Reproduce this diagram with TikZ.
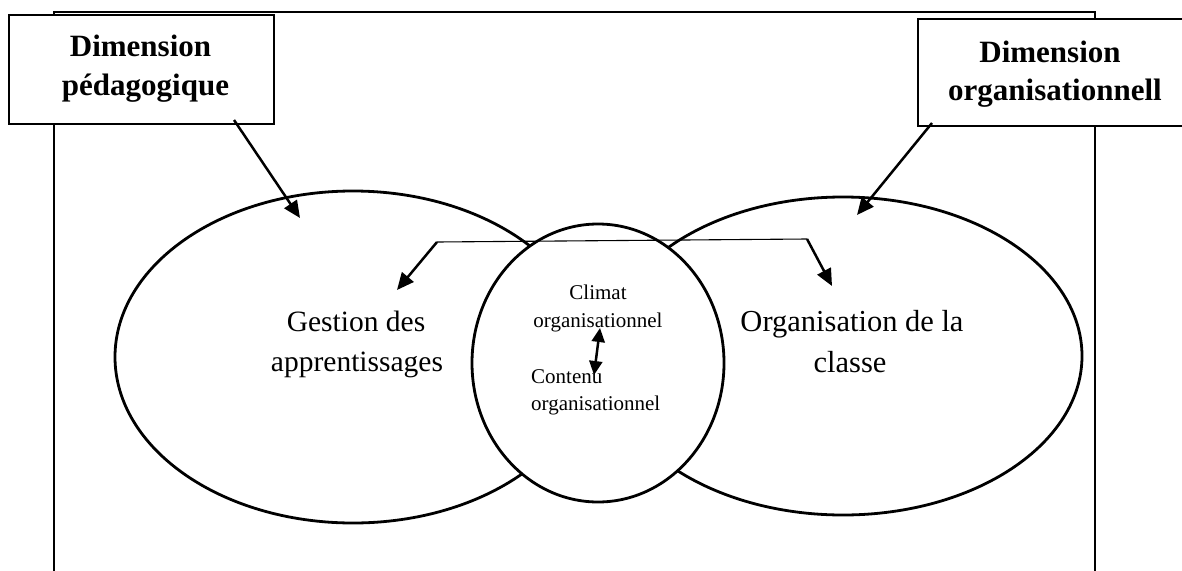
\documentclass[tikz,border=0pt]{standalone}
\usepackage{fontspec}
\setmainfont{Liberation Serif}
\usetikzlibrary{shapes.geometric,arrows.meta}
\tikzset{
  frameline/.style={line width=1.7pt},
  boxshape/.style={draw, fill=white, line width=2.8pt},
  bigoval/.style={ellipse, draw, line width=2.8pt, inner sep=0pt},
  arrowline/.style={-{Triangle[length=17pt,width=15pt]}, line width=2.5pt},
  dblarrow/.style={{Triangle[length=14pt,width=13pt]}-{Triangle[length=14pt,width=13pt]}, line width=2.5pt},
  thinline/.style={line width=1.1pt},
  boldtxt/.style={anchor=base, inner sep=0pt, font=\fontsize{31}{37}\selectfont\bfseries},
  midtxt/.style={anchor=base, inner sep=0pt, font=\fontsize{29.5}{35}\selectfont},
  smalltxt/.style={anchor=base, inner sep=0pt, font=\fontsize{21}{25}\selectfont},
}
\begin{document}
\begin{tikzpicture}[x=1pt,y=-1pt]
\useasboundingbox (0,0) rectangle (1182,570);
\clip (0,0) rectangle (1182,570);
% outer frame (open at bottom)
\coordinate (fbl) at (54,600);
\coordinate (ftl) at (54,12);
\coordinate (ftr) at (1095,12);
\coordinate (fbr) at (1095,600);
\draw[frameline] (fbl) -- (ftl) -- (ftr) -- (fbr);
% header boxes
\node[boxshape, minimum width=265pt, minimum height=109pt, inner sep=0pt] (boxL) at (141.5,69.5) {};
\node[boxshape, minimum width=272pt, minimum height=107pt, inner sep=0pt] (boxR) at (1054,72.5) {};
\node[boldtxt] (dL1) at (140.5,56) {Dimension};
\node[boldtxt] (dL2) at (145.5,95) {pédagogique};
\node[boldtxt] (dR1) at (1050,62) {Dimension};
\node[boldtxt] (dR2) at (1055,100) {organisationnell};
% ovals
\node[bigoval, minimum width=476pt, minimum height=332pt] (ellL) at (353,357) {};
\node[bigoval, minimum width=478pt, minimum height=318pt] (ellR) at (843,356) {};
\node[bigoval, fill=white, minimum width=252pt, minimum height=278pt] (circ) at (598,363) {};
% arrows from header boxes
\coordinate (aLs) at (234,120);
\coordinate (aLe) at (300,218);
\coordinate (aRs) at (932,123);
\coordinate (aRe) at (857,215);
\draw[arrowline] (aLs) -- (aLe);
\draw[arrowline] (aRs) -- (aRe);
% connector over the circle
\coordinate (cL) at (437,242);
\coordinate (cR) at (807,239);
\coordinate (cLe) at (397,290);
\coordinate (cRe) at (832,286);
\draw[thinline] (cL) -- (cR);
\draw[arrowline] (cL) -- (cLe);
\draw[arrowline] (cR) -- (cRe);
% texts in the ovals
\node[midtxt] (g1) at (356,331) {Gestion des};
\node[midtxt] (g2) at (357,371) {apprentissages};
\node[midtxt, font=\fontsize{30.5}{36}\selectfont] (o1) at (852,331) {Organisation de la};
\node[midtxt, font=\fontsize{30.5}{36}\selectfont] (o2) at (850,372) {classe};
\node[smalltxt] (c1) at (598,299) {Climat};
\node[smalltxt] (c2) at (598,327) {organisationnel};
\node[smalltxt, anchor=base west] (t1) at (531,383) {Contenu};
\node[smalltxt, anchor=base west] (t2) at (531,410) {organisationnel};
% double arrow
\coordinate (dA) at (600,328);
\coordinate (dB) at (594,375);
\draw[dblarrow] (dA) -- (dB);
\end{tikzpicture}
\end{document}
